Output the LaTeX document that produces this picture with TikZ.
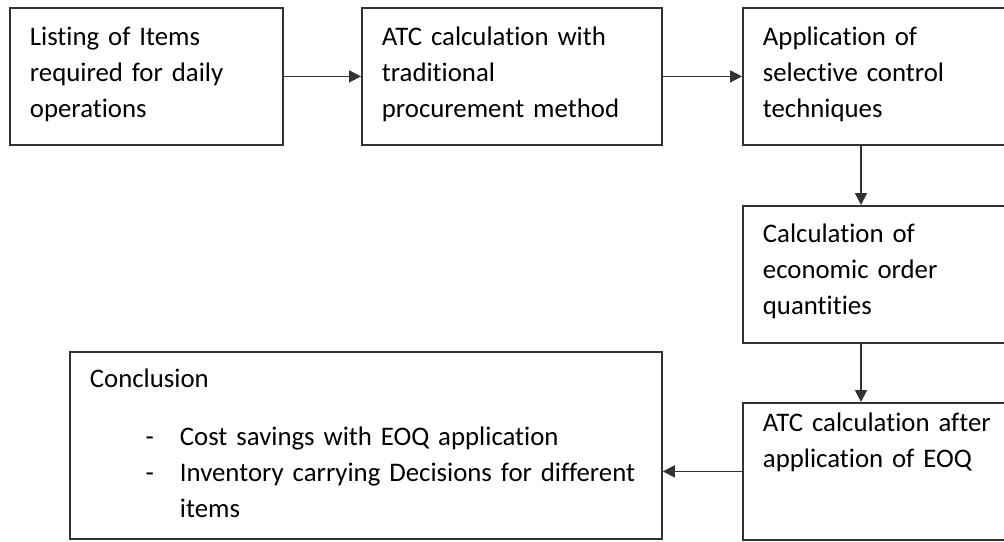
\documentclass[tikz,border=0pt]{standalone}
\usepackage{fontspec}
\setmainfont{Carlito}[Ligatures=NoCommon]
\usetikzlibrary{arrows.meta,positioning,calc}

\begin{document}
\begin{tikzpicture}[x=0.5pt,y=-0.5pt,
    flowbox/.style={draw=black!80, line width=0.9pt, anchor=north west,
      inner xsep=10pt, inner ysep=0pt, align=left,
      font=\fontsize{13.4}{18}\selectfont},
    flow/.style={draw=black!80, line width=0.9pt, -{Triangle[length=6pt,width=6pt]}}
  ]
  \useasboundingbox (0,0) rectangle (1004,541);

  \node[flowbox, text width=116.5pt, text height=19pt, text depth=49.5pt] (listing) at (9,7)
    {Listing of Items\\required for daily\\operations};
  \node[flowbox, text width=130pt, text height=19pt, text depth=49.5pt] (atctrad) at (361,7)
    {ATC calculation with\\traditional\\procurement method};
  \node[flowbox, text width=125pt, text height=19pt, text depth=49.5pt] (selective) at (742,7)
    {Application of\\selective control\\techniques};
  \node[flowbox, text width=125pt, text height=18.5pt, text depth=50pt] (eoq) at (742,205)
    {Calculation of\\economic order\\quantities};
  \node[flowbox, text width=125pt, text height=14.5pt, text depth=54pt] (atceoq) at (742,402)
    {ATC calculation after\\application of EOQ};
  \node[flowbox, text width=276pt, text height=18pt, text depth=75.5pt] (conclusion) at (69,351)
    {Conclusion\par\vspace{11pt}
     {\leftskip=45pt
      \noindent\llap{-\hspace{13pt}}Cost savings with EOQ application\par
      \noindent\llap{-\hspace{13pt}}Inventory carrying Decisions for different\\items\par}};

  \draw[flow] (listing.east) -- (atctrad.west);
  \draw[flow] (atctrad.east) -- (selective.west);
  \draw[flow] ([xshift=59.5pt]selective.south west) -- ([xshift=59.5pt]eoq.north west);
  \draw[flow] ([xshift=59.5pt]eoq.south west) -- ([xshift=59.5pt]atceoq.north west);
  \draw[flow] (atceoq.west) -- (atceoq.west -| conclusion.east);
\end{tikzpicture}
\end{document}
